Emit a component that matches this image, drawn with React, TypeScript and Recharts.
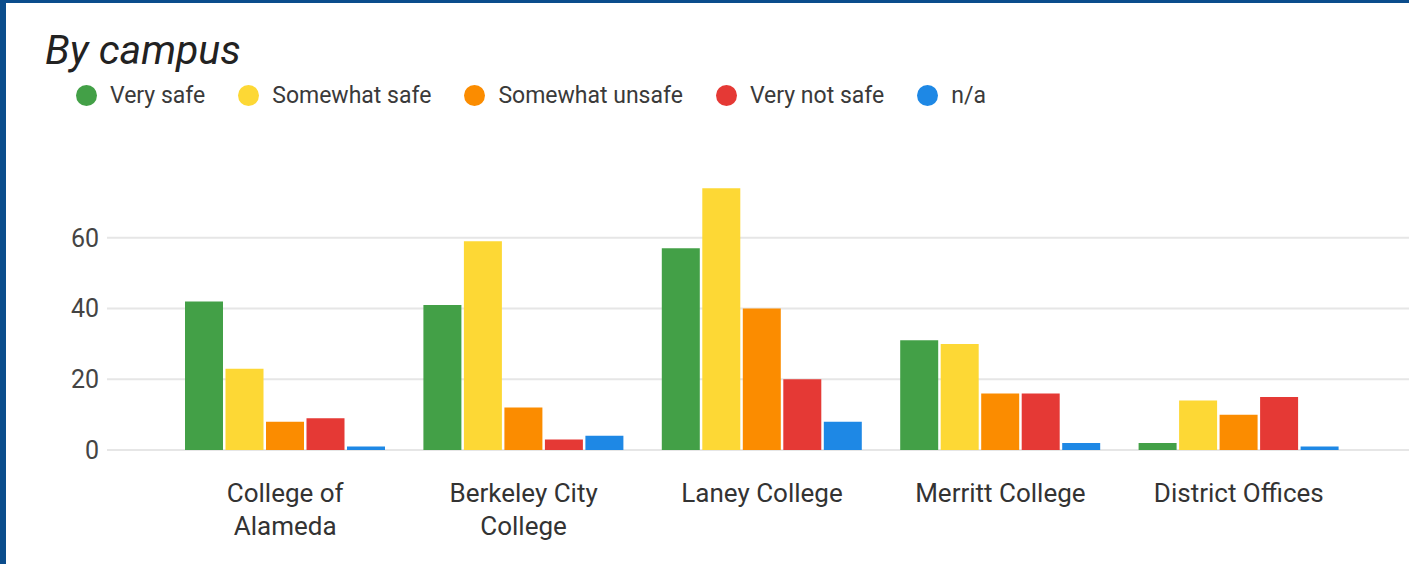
import React from 'react';
import { BarChart, Bar, XAxis, YAxis, CartesianGrid, Legend } from 'recharts';

const campuses = ['College of Alameda', 'Berkeley City College', 'Laney College', 'Merritt College', 'District Offices'];
const verySafe = [42, 41, 57, 31, 2];
const somewhatSafe = [23, 59, 74, 30, 14];
const somewhatUnsafe = [8, 12, 40, 16, 10];
const veryNotSafe = [9, 3, 20, 16, 15];
const notApplicable = [1, 4, 8, 2, 1];
const yTicks = [0, 20, 40, 60];
const yDomain = [0, 80];

const seriesDefs = [
  { key: 'verySafe', name: 'Very safe', color: '#43a047', values: verySafe },
  { key: 'somewhatSafe', name: 'Somewhat safe', color: '#fdd835', values: somewhatSafe },
  { key: 'somewhatUnsafe', name: 'Somewhat unsafe', color: '#fb8c00', values: somewhatUnsafe },
  { key: 'veryNotSafe', name: 'Very not safe', color: '#e53935', values: veryNotSafe },
  { key: 'na', name: 'n/a', color: '#1e88e5', values: notApplicable },
];

const data = campuses.map((c, i) => {
  const row: Record<string, any> = { campus: c };
  seriesDefs.forEach((s) => (row[s.key] = s.values[i]));
  return row;
});

const FONT = 'Roboto, "Liberation Sans", Arial, sans-serif';
const MAX_CHARS = 16;

function wrapWords(label: string): string[] {
  if (label.length <= MAX_CHARS) return [label];
  const words = label.split(' ');
  const lines: string[] = [];
  let cur = '';
  words.forEach((w) => {
    const next = cur ? cur + ' ' + w : w;
    if (next.length > 13 && cur) {
      lines.push(cur);
      cur = w;
    } else {
      cur = next;
    }
  });
  if (cur) lines.push(cur);
  return lines;
}

function gridGen(p: any): number[] {
  const ax = p && p.yAxis;
  const s = ax && ax.scale;
  if (typeof s === 'function') return yTicks.map((t) => s(t));
  if (s && typeof s.map === 'function') return yTicks.map((t) => s.map(t));
  if (s && typeof s.scale === 'function') return yTicks.map((t) => s.scale(t));
  const top = p.offset.top;
  const h = p.offset.height;
  return yTicks.map((t) => top + h * (1 - (t - yDomain[0]) / (yDomain[1] - yDomain[0])));
}

const XTick = (props: any) => {
  const { x, y, payload } = props;
  const lines = wrapWords(String(payload.value));
  return (
    <text x={x} y={y} textAnchor="middle" fill="#333" fontSize={26} fontFamily={FONT}>
      {lines.map((l, i) => (
        <tspan key={i} x={x} dy={i === 0 ? 18.5 : 33}>
          {l}
        </tspan>
      ))}
    </text>
  );
};

const LegendContent = () => (
  <div style={{ display: 'flex', alignItems: 'center', fontFamily: FONT, fontSize: 23, color: '#3a3a3a', whiteSpace: 'nowrap' }}>
    {seriesDefs.map((s) => (
      <div key={s.key} style={{ display: 'flex', alignItems: 'center', marginRight: 33 }}>
        <div style={{ width: 21, height: 21, borderRadius: '50%', background: s.color, marginRight: 13 }} />
        <span style={{ lineHeight: '23px' }}>{s.name}</span>
      </div>
    ))}
  </div>
);

export default function App() {
  return (
    <div style={{ position: 'absolute', left: 0, top: 0, width: 1409, height: 564, background: '#fff', overflow: 'hidden' }}>
      <div style={{ position: 'absolute', left: 0, top: 0, width: 6, height: 564, background: '#0b4d8c' }} />
      <div style={{ position: 'absolute', left: 0, top: 0, width: 1409, height: 3, background: '#0b4d8c' }} />
      <div
        style={{
          position: 'absolute',
          left: 45,
          top: 30,
          fontFamily: FONT,
          fontStyle: 'italic',
          fontSize: 41,
          lineHeight: '41px',
          color: '#222',
          whiteSpace: 'nowrap',
        }}
      >
        By campus
      </div>
      <div style={{ position: 'absolute', left: 0, top: 0 }}>
        <BarChart
          width={1409}
          height={564}
          data={data}
          margin={{ top: 167, right: 0, bottom: 84, left: 0 }}
          barCategoryGap={19}
          barGap={2.5}
        >
          <CartesianGrid vertical={false} stroke="#e6e6e6" strokeWidth={2} horizontalCoordinatesGenerator={gridGen} />
          <XAxis
            dataKey="campus"
            height={30}
            axisLine={false}
            tickLine={false}
            tickSize={0}
            tickMargin={33}
            padding={{ left: 59, right: 51 }}
            tick={<XTick />}
            interval={0}
          />
          <YAxis
            width={107}
            domain={yDomain}
            ticks={yTicks}
            axisLine={false}
            tickLine={false}
            tickSize={0}
            tickMargin={8}
            tick={{ fill: '#444', fontSize: 25, fontFamily: FONT }}
          />
          <Legend
            layout="vertical"
            align="center"
            verticalAlign="middle"
            content={<LegendContent />}
            wrapperStyle={{ position: 'absolute', left: 76, top: 84, width: 'auto' }}
          />
          {seriesDefs.map((s) => (
            <Bar key={s.key} dataKey={s.key} name={s.name} fill={s.color} isAnimationActive={false} />
          ))}
        </BarChart>
      </div>
    </div>
  );
}
